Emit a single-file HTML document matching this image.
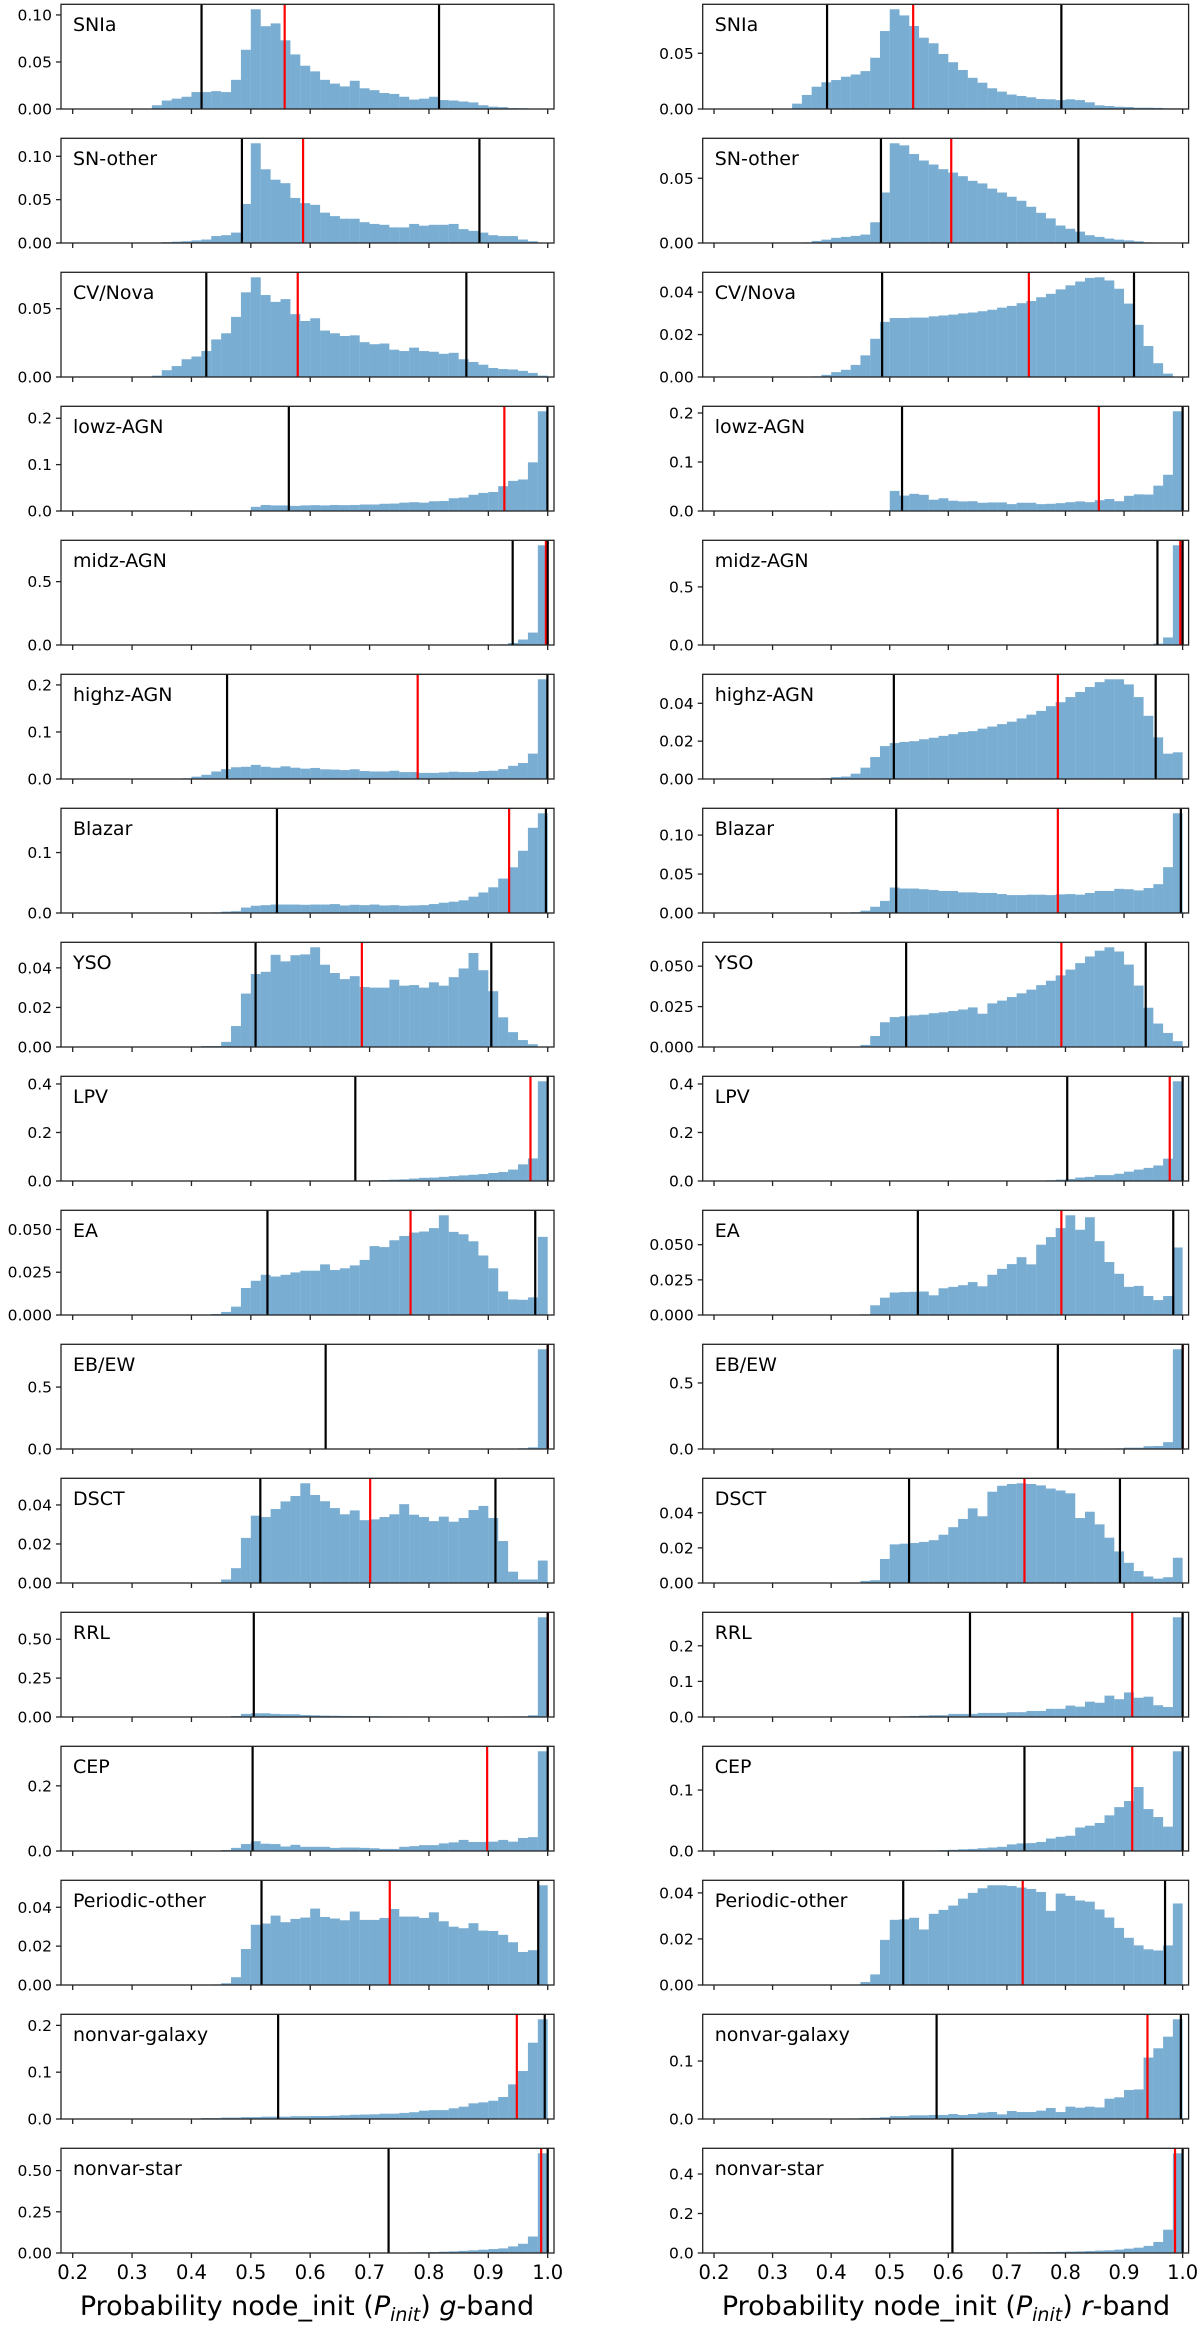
<!DOCTYPE html>
<html><head><meta charset="utf-8">
<style>
html,body{margin:0;padding:0;background:#fff;}
svg{display:block;}
text{font-family:"DejaVu Sans","Liberation Sans",sans-serif;fill:#000;}
</style></head>
<body>
<svg id="fig" width="1200" height="2326" viewBox="0 0 1200 2326" xmlns="http://www.w3.org/2000/svg">
<text x="307" y="2315" font-size="27" text-anchor="middle">Probability node_init (<tspan font-style="italic">P</tspan><tspan font-style="italic" font-size="19" dy="6">init</tspan><tspan dy="-6">) </tspan><tspan font-style="italic">g</tspan>-band</text>
<text x="946" y="2315" font-size="27" text-anchor="middle">Probability node_init (<tspan font-style="italic">P</tspan><tspan font-style="italic" font-size="19" dy="6">init</tspan><tspan dy="-6">) </tspan><tspan font-style="italic">r</tspan>-band</text>
</svg>
<script>
// ---------- data ----------
const classLabels = ["SNIa","SN-other","CV/Nova","lowz-AGN","midz-AGN","highz-AGN","Blazar","YSO","LPV","EA","EB/EW","DSCT","RRL","CEP","Periodic-other","nonvar-galaxy","nonvar-star"];
const binEdgesStart = 0.2;
const binWidth = 1/60;
const xTickValues = [0.2,0.3,0.4,0.5,0.6,0.7,0.8,0.9,1.0];
const xTickLabels = ["0.2","0.3","0.4","0.5","0.6","0.7","0.8","0.9","1.0"];

// g-band
const gStart = [8,8,8,18,43,11,14,13,17,13,41,15,16,15,14,11,24];
const gValues = [
[0.004,0.009,0.011,0.013,0.018,0.018,0.019,0.018,0.031,0.063,0.106,0.088,0.091,0.073,0.058,0.046,0.040,0.031,0.027,0.024,0.030,0.022,0.020,0.017,0.016,0.013,0.010,0.011,0.013,0.0095,0.009,0.008,0.007,0.004,0.0025,0.002,0.001,0.0008,0.0003,0.0003],
[0.0005,0.001,0.0015,0.002,0.003,0.004,0.008,0.009,0.012,0.045,0.115,0.085,0.073,0.069,0.052,0.046,0.044,0.035,0.031,0.028,0.028,0.024,0.022,0.021,0.018,0.018,0.022,0.020,0.021,0.021,0.022,0.016,0.014,0.012,0.009,0.008,0.008,0.004,0.002,0],
[0.001,0.005,0.008,0.013,0.015,0.019,0.0275,0.032,0.044,0.062,0.073,0.060,0.055,0.057,0.046,0.041,0.043,0.034,0.032,0.030,0.0305,0.0255,0.024,0.0245,0.020,0.019,0.0215,0.019,0.0185,0.017,0.0177,0.013,0.011,0.009,0.0066,0.0058,0.0055,0.0045,0.003,0.001],
[0.009,0.013,0.012,0.012,0.011,0.012,0.0126,0.012,0.013,0.0126,0.013,0.014,0.014,0.0156,0.016,0.018,0.019,0.018,0.021,0.0215,0.0275,0.029,0.035,0.039,0.041,0.0535,0.065,0.068,0.105,0.215],
[0.005,0.016,0.043,0.098,0.787],
[0.0015,0.005,0.009,0.016,0.021,0.025,0.026,0.030,0.026,0.024,0.027,0.024,0.022,0.0235,0.0206,0.020,0.019,0.0206,0.017,0.016,0.016,0.0176,0.0147,0.0147,0.013,0.013,0.014,0.0155,0.0147,0.0147,0.017,0.0176,0.021,0.028,0.034,0.054,0.212],
[0.001,0.0023,0.003,0.009,0.012,0.013,0.014,0.014,0.014,0.0136,0.014,0.014,0.0148,0.0125,0.0136,0.013,0.014,0.0125,0.013,0.012,0.0125,0.013,0.0148,0.017,0.0187,0.021,0.027,0.034,0.0426,0.057,0.0756,0.103,0.141,0.165],
[0.0005,0.0005,0.0026,0.0106,0.027,0.0369,0.038,0.0466,0.0433,0.0464,0.0468,0.0504,0.0416,0.0374,0.0343,0.0358,0.0303,0.030,0.030,0.034,0.031,0.0313,0.030,0.0327,0.031,0.0353,0.0397,0.0475,0.0388,0.0282,0.015,0.0075,0.0035,0.0014,0],
[0.001,0.001,0.001,0.001,0.001,0.001,0.001,0.001,0.001,0.001,0.001,0.001,0.001,0.003,0.004,0.0057,0.007,0.01,0.013,0.014,0.017,0.02,0.023,0.0257,0.0286,0.033,0.037,0.047,0.0686,0.093,0.411],
[0.0002,0.0006,0.0018,0.0049,0.0158,0.020,0.0235,0.0225,0.0235,0.0249,0.0259,0.0259,0.0296,0.0263,0.0273,0.029,0.0322,0.0403,0.0397,0.0437,0.0462,0.0482,0.0488,0.0508,0.0583,0.0486,0.0472,0.0431,0.0348,0.0273,0.0138,0.0091,0.0089,0.0103,0.0457],
[0.001,0.002,0.003,0.004,0.006,0.013,0.805],
[0.0018,0.0076,0.0231,0.0345,0.0338,0.0379,0.0418,0.0446,0.0511,0.0451,0.0419,0.0384,0.0352,0.0372,0.0322,0.0326,0.0338,0.0352,0.0404,0.035,0.0338,0.0317,0.034,0.0314,0.0333,0.0374,0.0395,0.0333,0.0215,0.0058,0.0018,0.0018,0.0115],
[0.0066,0.02,0.024,0.024,0.02,0.0177,0.0177,0.013,0.011,0.009,0.008,0.007,0.0066,0.0066,0.005,0.0044,0.004,0.004,0.0035,0.0035,0.003,0.003,0.003,0.003,0.003,0.003,0.003,0.0035,0.004,0.0044,0.011,0.641],
[0.003,0.0096,0.0213,0.030,0.0223,0.0213,0.0138,0.019,0.0128,0.0128,0.0128,0.0096,0.0106,0.0106,0.0096,0.0085,0.0064,0.0064,0.0128,0.0149,0.018,0.018,0.0234,0.0266,0.034,0.0277,0.0277,0.0287,0.034,0.0287,0.040,0.0425,0.306],
[0.0003,0.0009,0.004,0.0185,0.031,0.0316,0.0357,0.0323,0.034,0.0347,0.0393,0.035,0.0342,0.0333,0.0378,0.0335,0.0335,0.0345,0.0391,0.0352,0.0352,0.0345,0.0374,0.0328,0.030,0.0292,0.0318,0.028,0.0278,0.0258,0.022,0.017,0.0179,0.0513],
[0.001,0.001,0.002,0.002,0.003,0.003,0.004,0.004,0.005,0.005,0.005,0.006,0.006,0.0064,0.0064,0.007,0.008,0.009,0.0095,0.010,0.0114,0.0114,0.013,0.0145,0.0178,0.019,0.019,0.0228,0.0263,0.0335,0.0356,0.039,0.047,0.074,0.1025,0.163,0.213],
[0.0005,0.0008,0.001,0.001,0.001,0.001,0.001,0.0015,0.002,0.003,0.004,0.005,0.006,0.008,0.01,0.013,0.016,0.02,0.024,0.028,0.04,0.056,0.1,0.605]
];
const gLow  = [0.417,0.485,0.425,0.564,0.941,0.460,0.544,0.508,0.676,0.528,0.626,0.516,0.505,0.503,0.518,0.546,0.732];
const gMed  = [0.557,0.588,0.579,0.927,0.997,0.781,0.935,0.687,0.971,0.769,1.0,0.701,1.0,0.898,0.734,0.948,0.989];
const gHigh = [0.817,0.885,0.863,0.9995,1.0,0.9995,0.997,0.905,1.0,0.979,1.0,0.912,1.0,1.0,0.984,0.995,1.0];
const gYTicks = [[0,0.05,0.10],[0,0.05,0.10],[0,0.05],[0,0.1,0.2],[0,0.5],[0,0.1,0.2],[0,0.1],[0,0.02,0.04],[0,0.2,0.4],[0,0.025,0.05],[0,0.5],[0,0.02,0.04],[0,0.25,0.5],[0,0.2],[0,0.02,0.04],[0,0.1,0.2],[0,0.25,0.5]];
const gYDec = [2,2,2,1,1,1,1,2,1,3,1,2,2,1,2,1,2];

// r-band
const rStart = [8,9,9,18,45,11,14,15,32,15,35,15,18,19,14,13,24];
const rValues = [
[0.0048,0.0126,0.020,0.024,0.026,0.029,0.031,0.034,0.046,0.070,0.0895,0.084,0.0745,0.064,0.059,0.0494,0.042,0.035,0.028,0.0236,0.0186,0.0156,0.013,0.0117,0.0105,0.009,0.0087,0.008,0.0087,0.008,0.006,0.0033,0.0027,0.002,0.0018,0.0012,0.0012,0.001,0.0006,0.0006],
[0.0005,0.0016,0.0026,0.004,0.0047,0.0055,0.0065,0.016,0.039,0.077,0.0754,0.0687,0.0637,0.0606,0.057,0.0544,0.0516,0.048,0.046,0.042,0.039,0.0357,0.0326,0.028,0.0233,0.019,0.0135,0.011,0.0088,0.006,0.0047,0.0034,0.0026,0.002,0.0013,0.0005,0,0,0],
[0.0002,0.0003,0.001,0.0023,0.0034,0.0057,0.0102,0.018,0.026,0.0278,0.0278,0.028,0.028,0.0286,0.029,0.0294,0.030,0.0304,0.031,0.0317,0.0327,0.0335,0.0348,0.0358,0.0376,0.0392,0.0413,0.0432,0.045,0.0467,0.047,0.0455,0.0416,0.0346,0.0246,0.0146,0.0065,0.0016,0],
[0.041,0.0315,0.035,0.033,0.023,0.026,0.021,0.0196,0.020,0.0168,0.0175,0.0175,0.014,0.0168,0.0168,0.014,0.0147,0.016,0.018,0.0196,0.018,0.022,0.0245,0.020,0.031,0.034,0.0336,0.0517,0.074,0.2035],
[0.012,0.065,0.858],
[0.0004,0.001,0.0013,0.0028,0.006,0.0116,0.0174,0.019,0.0196,0.020,0.021,0.0218,0.0228,0.0237,0.0248,0.0253,0.0266,0.0277,0.029,0.0303,0.032,0.034,0.036,0.0385,0.0406,0.0433,0.046,0.0486,0.0512,0.0527,0.0527,0.050,0.0433,0.0334,0.022,0.0134,0.0141],
[0.001,0.003,0.008,0.0155,0.0327,0.0314,0.0314,0.0305,0.0296,0.0283,0.0283,0.0265,0.0265,0.0257,0.0257,0.0243,0.023,0.023,0.0235,0.0235,0.023,0.0239,0.0243,0.0235,0.0257,0.0283,0.0283,0.031,0.0305,0.029,0.032,0.037,0.0588,0.128],
[0.0013,0.0068,0.0153,0.0185,0.019,0.0196,0.020,0.0209,0.0215,0.0223,0.0232,0.0245,0.0206,0.027,0.0287,0.0309,0.0332,0.0355,0.0383,0.041,0.0443,0.0479,0.0519,0.056,0.0596,0.0617,0.0591,0.051,0.038,0.0243,0.0145,0.0087,0.0036],
[0.001,0.0015,0.003,0.0057,0.0086,0.0143,0.0171,0.0243,0.0243,0.03,0.0386,0.047,0.054,0.064,0.092,0.411],
[0.0005,0.0069,0.0123,0.016,0.0163,0.0165,0.0167,0.014,0.019,0.020,0.0212,0.0234,0.0204,0.0286,0.0328,0.0362,0.0411,0.036,0.050,0.0554,0.0618,0.0709,0.0606,0.0695,0.0525,0.0377,0.0293,0.020,0.0207,0.0135,0.0106,0.0135,0.048],
[0.001,0.001,0.002,0.002,0.003,0.004,0.005,0.01,0.01,0.021,0.023,0.052,0.755],
[0.0012,0.0016,0.0137,0.022,0.0224,0.0228,0.0234,0.0244,0.0275,0.0318,0.0365,0.0425,0.038,0.052,0.0554,0.0564,0.0568,0.0564,0.0556,0.0538,0.0527,0.0511,0.037,0.0406,0.0334,0.0258,0.018,0.0115,0.0068,0.0037,0.0025,0.0033,0.0144],
[0.001,0.002,0.003,0.004,0.005,0.005,0.0087,0.0087,0.0087,0.0115,0.0115,0.0115,0.0135,0.0135,0.017,0.017,0.023,0.023,0.032,0.029,0.043,0.040,0.060,0.050,0.069,0.054,0.057,0.033,0.028,0.280],
[0.0005,0.0005,0.001,0.001,0.0015,0.002,0.0028,0.0034,0.0045,0.0057,0.0068,0.0108,0.0125,0.013,0.0148,0.0205,0.0233,0.025,0.0386,0.0415,0.046,0.0585,0.072,0.082,0.105,0.0688,0.0557,0.04,0.1636],
[0.0002,0.0013,0.0046,0.0196,0.0283,0.0285,0.0292,0.0241,0.0309,0.0326,0.0345,0.0375,0.040,0.042,0.0433,0.0433,0.043,0.0423,0.0417,0.0404,0.0322,0.0397,0.0387,0.0367,0.0362,0.0328,0.0293,0.0248,0.0205,0.0172,0.0155,0.015,0.0172,0.0354],
[0.0005,0.001,0.0015,0.002,0.003,0.005,0.005,0.0063,0.0063,0.007,0.007,0.0086,0.0069,0.0086,0.011,0.012,0.008,0.0138,0.012,0.012,0.0144,0.019,0.012,0.0213,0.0195,0.0213,0.020,0.035,0.0374,0.050,0.051,0.106,0.122,0.142,0.172],
[0.0003,0.0005,0.0008,0.001,0.0015,0.002,0.0025,0.003,0.0035,0.004,0.005,0.006,0.007,0.008,0.01,0.012,0.0136,0.017,0.022,0.027,0.036,0.056,0.118,0.505]
];
const rLow  = [0.393,0.485,0.487,0.521,0.957,0.507,0.511,0.528,0.803,0.548,0.787,0.533,0.637,0.730,0.523,0.580,0.607];
const rMed  = [0.540,0.605,0.7375,0.857,0.996,0.787,0.787,0.793,0.978,0.793,1.0,0.730,0.914,0.914,0.727,0.940,0.987];
const rHigh = [0.793,0.822,0.917,1.0,1.0,0.954,0.997,0.937,1.0,0.984,1.0,0.893,1.0,1.0,0.970,0.997,1.0];
const rYTicks = [[0,0.05],[0,0.05],[0,0.02,0.04],[0,0.1,0.2],[0,0.5],[0,0.02,0.04],[0,0.05,0.10],[0,0.025,0.05],[0,0.2,0.4],[0,0.025,0.05],[0,0.5],[0,0.02,0.04],[0,0.1,0.2],[0,0.1],[0,0.02,0.04],[0,0.1],[0,0.2,0.4]];
const rYDec = [2,2,2,1,1,2,2,3,1,3,1,2,1,1,2,1,1];

// ---------- drawing ----------
const NS = "http://www.w3.org/2000/svg";
const svg = document.getElementById('fig');
const PANEL_TOP0 = 4.3, PANEL_STEP = 134, PANEL_H = 104.7;
const columns = [
  {key:'g', left:61, right:554, xmin:0.1803, xmax:1.0106, start:gStart, vals:gValues, lo:gLow, med:gMed, hi:gHigh, yt:gYTicks, yd:gYDec},
  {key:'r', left:702.7, right:1188.6, xmin:0.1807, xmax:1.0102, start:rStart, vals:rValues, lo:rLow, med:rMed, hi:rHigh, yt:rYTicks, yd:rYDec}
];
function mk(tag, attrs, parent){
  const e = document.createElementNS(NS, tag);
  for (const k in attrs) e.setAttribute(k, attrs[k]);
  (parent||svg).appendChild(e);
  return e;
}
columns.forEach(col => {
  const xs = v => col.left + (v - col.xmin) / (col.xmax - col.xmin) * (col.right - col.left);
  classLabels.forEach((lab, p) => {
    const top = PANEL_TOP0 + p*PANEL_STEP, bot = top + PANEL_H;
    const vals = col.vals[p];
    const ymax = Math.max(...vals) * 1.05;
    const ys = v => bot - v / ymax * PANEL_H;
    const g = mk('g', {});
    
    
    vals.forEach((v, j) => {
      if (v <= 0) return;
      const i = col.start[p] + j;
      const x0 = xs(binEdgesStart + i*binWidth), x1 = xs(binEdgesStart + (i+1)*binWidth);
      const r = mk('rect', {x:x0, y:ys(v), width:x1-x0, height:bot-ys(v), fill:'#1f77b4', 'fill-opacity':0.6}, g);
      
      
    });
    const lineDefs = [[col.med[p],'#ff0000','median-line'],[col.lo[p],'#000','lower-threshold-line'],[col.hi[p],'#000','upper-threshold-line']];
    lineDefs.forEach(([v,c,nm]) => {
      const l = mk('line', {x1:xs(v), x2:xs(v), y1:top, y2:bot, stroke:c, 'stroke-width':2.2}, g);
      
      
    });
    const fr = mk('rect', {x:col.left, y:top, width:col.right-col.left, height:PANEL_H, fill:'none', stroke:'#222', 'stroke-width':1.3}, g);
    
    
    xTickValues.forEach((tv, k) => {
      mk('line', {x1:xs(tv), x2:xs(tv), y1:bot, y2:bot+5, stroke:'#222', 'stroke-width':1.3}, g);
      if (p === classLabels.length-1) {
        const t = mk('text', {x:xs(tv), y:bot+26, 'font-size':19.5, 'text-anchor':'middle'}, g);
        
        
        t.textContent = xTickLabels[k];
      }
    });
    col.yt[p].forEach(tv => {
      const y = ys(tv);
      mk('line', {x1:col.left-5, x2:col.left, y1:y, y2:y, stroke:'#222', 'stroke-width':1.3}, g);
      const t = mk('text', {x:col.left-9, y:y+5.5, 'font-size':15.5, 'text-anchor':'end'}, g);
      
      
      t.textContent = tv.toFixed(col.yd[p]);
    });
    const tl = mk('text', {x:col.left+12, y:top+26.5, 'font-size':19}, g);
    
    
    tl.textContent = lab;
  });
});
</script>
</body></html>
